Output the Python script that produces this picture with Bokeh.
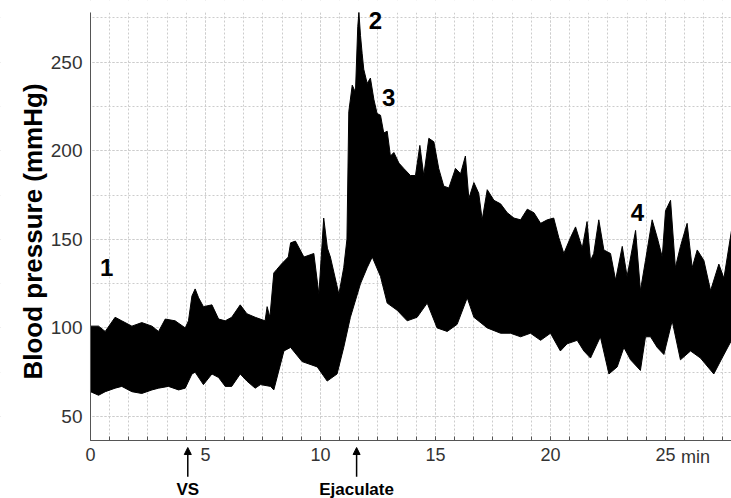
import math
from bokeh.plotting import figure
from bokeh.models import SingleIntervalTicker, Label, Arrow, NormalHead, BoxAnnotation
from bokeh.embed import file_html
from bokeh.resources import INLINE

# ---- data (time in min, pressure in mmHg) ----
t_upper = [0.0, 0.35, 0.64, 1.07, 1.36, 1.80, 2.23, 2.67, 2.96, 3.25, 3.68, 4.12, 4.26, 4.41,
           4.55, 4.70, 4.91, 5.28, 5.57, 5.86, 6.14, 6.51, 6.80, 7.16, 7.59, 7.68, 7.80, 7.97,
           8.10, 8.30, 8.60, 8.70, 8.91, 9.28, 9.71, 9.93, 10.14, 10.30, 10.43, 10.80, 11.01,
           11.15, 11.23, 11.38, 11.52, 11.62, 11.67, 11.74, 11.81, 11.88, 12.03, 12.17, 12.32,
           12.46, 12.61, 12.75, 12.90, 13.04, 13.19, 13.41, 13.62, 13.91, 14.13, 14.32, 14.49,
           14.71, 14.93, 15.14, 15.36, 15.58, 15.87, 16.09, 16.30, 16.45, 16.67, 16.88, 17.03,
           17.25, 17.54, 17.83, 18.12, 18.41, 18.70, 18.99, 19.28, 19.57, 19.86, 20.14, 20.36,
           20.58, 20.87, 21.09, 21.38, 21.59, 21.74, 21.88, 22.10, 22.32, 22.61, 22.83, 23.12,
           23.33, 23.70, 23.91, 24.13, 24.42, 24.64, 24.86, 25.00, 25.22, 25.43, 25.65, 25.94,
           26.16, 26.38, 26.67, 26.96, 27.32, 27.54, 27.87]
bp_upper = [101, 101, 98, 106, 104, 101, 103, 101, 98, 105, 104, 100, 104, 118,
            122, 117, 112, 113, 105, 104, 106, 113, 108, 106, 104, 112, 106, 131,
            133, 136, 140, 148, 149, 140, 142, 119, 162, 145, 140, 119, 134,
            150, 222, 237, 233, 270, 278, 265, 255, 246, 238, 241, 229,
            221, 220, 210, 211, 197, 199, 193, 190, 186, 186, 203, 186,
            207, 205, 190, 180, 179, 190, 187, 197, 173, 182, 176, 161,
            178, 172, 170, 165, 162, 161, 167, 165, 159, 161, 162, 151,
            142, 151, 157, 145, 160, 138, 142, 161, 144, 142, 127, 146,
            129, 155, 121, 138, 161, 151, 140, 166, 172, 134, 146, 159,
            134, 144, 138, 121, 136, 128, 155]

t_lower = [0.0, 0.35, 0.64, 1.07, 1.36, 1.80, 2.23, 2.67, 2.96, 3.39, 3.83, 4.12, 4.41, 4.55,
           4.91, 5.28, 5.57, 5.86, 6.14, 6.51, 6.80, 7.16, 7.39, 7.83, 7.97, 8.41, 8.70, 9.20,
           9.86, 10.29, 10.72, 11.01, 11.30, 11.74, 12.03, 12.25, 12.61, 12.90, 13.33, 13.77,
           14.20, 14.64, 15.07, 15.51, 15.94, 16.38, 16.67, 17.25, 17.83, 18.26, 18.70, 19.13,
           19.57, 20.00, 20.43, 20.72, 21.16, 21.45, 21.74, 22.17, 22.54, 22.90, 23.19, 23.48,
           23.91, 24.13, 24.35, 24.64, 24.93, 25.29, 25.65, 26.09, 26.52, 27.10, 27.46, 27.87]
bp_lower = [64, 62, 64, 66, 67, 64, 63, 65, 66, 67, 65, 66, 74, 75,
            68, 74, 72, 67, 67, 74, 70, 66, 68, 67, 65, 87, 89, 81,
            78, 70, 74, 89, 106, 125, 134, 140, 129, 114, 110, 104,
            106, 114, 100, 98, 102, 117, 106, 100, 97, 97, 95, 97,
            93, 97, 87, 91, 93, 87, 83, 95, 74, 78, 89, 82,
            76, 95, 95, 89, 85, 104, 82, 87, 83, 74, 83, 93]

event_times = [4.23, 11.57]
event_names = ["VS", "Ejaculate"]
phase_names = ["1", "2", "3", "4"]
phase_t = [0.70, 12.39, 12.96, 23.78]
phase_bp = [134, 273.5, 230, 165]

T_MIN, T_MAX = 0.0, 27.87          # plotted time span
BP_MIN, BP_MAX = 36.5, 278.0       # plotted pressure span

FONT = "Liberation Sans"
GRID = "#cccccc"

# The frame covers the whole canvas; the axes are pinned at the data edges
p = figure(width=731, height=498, x_range=(-3.913, T_MAX), y_range=(3.73, 284.77),
           output_backend="svg", toolbar_location=None)
p.min_border = 0
p.min_border_left = 0
p.min_border_right = 0
p.min_border_top = 0
p.min_border_bottom = 0
p.title.visible = False
p.outline_line_color = None
p.background_fill_color = "white"
p.border_fill_color = "white"

# band of the pressure trace
xs = t_upper + t_lower[::-1]
ys = bp_upper + bp_lower[::-1]
p.patch(xs, ys, fill_color="black", line_color="black", line_width=1)

# ticks and grid
xt = SingleIntervalTicker(interval=5, num_minor_ticks=6)
yt = SingleIntervalTicker(interval=50, num_minor_ticks=2)
p.xaxis.ticker = xt
p.yaxis.ticker = yt
p.xgrid.ticker = xt
p.ygrid.ticker = yt
for g in (p.xgrid[0], p.ygrid[0]):
    g.grid_line_color = GRID
    g.grid_line_dash = "2 2"
    g.grid_line_width = 1
    g.minor_grid_line_color = GRID
    g.minor_grid_line_dash = "2 2"
    g.minor_grid_line_width = 1

# white masks keep the grid inside the data area
for box in (BoxAnnotation(right=T_MIN), BoxAnnotation(top=BP_MIN), BoxAnnotation(bottom=BP_MAX)):
    box.fill_color = "white"
    box.fill_alpha = 1
    box.line_color = None
    box.level = "underlay"
    p.add_layout(box)

ax = p.xaxis[0]
ax.fixed_location = BP_MIN
ax.bounds = (T_MIN, T_MAX)
ax.axis_line_color = "#555555"
ax.major_tick_in = 4
ax.major_tick_out = 0
ax.minor_tick_in = 4
ax.minor_tick_out = 0
ax.major_tick_line_color = "#555555"
ax.minor_tick_line_color = "#555555"
ax.major_label_text_font = FONT
ax.major_label_text_font_size = "18px"
ax.major_label_text_color = "#333333"
ax.major_label_standoff = 8

ay = p.yaxis[0]
ay.fixed_location = T_MIN
ay.bounds = (BP_MIN, BP_MAX)
ay.axis_line_color = "#555555"
ay.major_tick_in = 0
ay.major_tick_out = 0
ay.minor_tick_line_color = None
ay.major_label_text_font = FONT
ay.major_label_text_font_size = "19px"
ay.major_label_text_color = "#333333"
ay.major_label_standoff = 4

# y axis title
p.add_layout(Label(x=-2.48, y=154.4, text="Blood pressure (mmHg)", angle=math.pi / 2,
                   text_font=FONT, text_font_style="bold", text_font_size="26px",
                   text_color="black", text_align="center", text_baseline="middle"))

# "min" unit after the 25 tick label
p.add_layout(Label(x=26.3, y=27.3, text="min", text_font=FONT, text_font_size="18px",
                   text_color="#333333", text_align="center", text_baseline="middle"))

# event arrows below the axis
for t, name in zip(event_times, event_names):
    p.add_layout(Arrow(end=NormalHead(size=7, fill_color="black", line_color="black"),
                       x_start=t, y_start=16.0, x_end=t, y_end=32.5,
                       line_color="black", line_width=1.5))
    p.add_layout(Label(x=t, y=8.6, text=name, text_font=FONT, text_font_style="bold",
                       text_font_size="17px", text_color="black",
                       text_align="center", text_baseline="middle"))

# phase numbers
for name, t, v in zip(phase_names, phase_t, phase_bp):
    p.add_layout(Label(x=t, y=v, text=name, text_font=FONT, text_font_style="bold",
                       text_font_size="24px", text_color="black",
                       text_align="center", text_baseline="middle"))

open("out.html", "w").write(file_html(p, INLINE))
